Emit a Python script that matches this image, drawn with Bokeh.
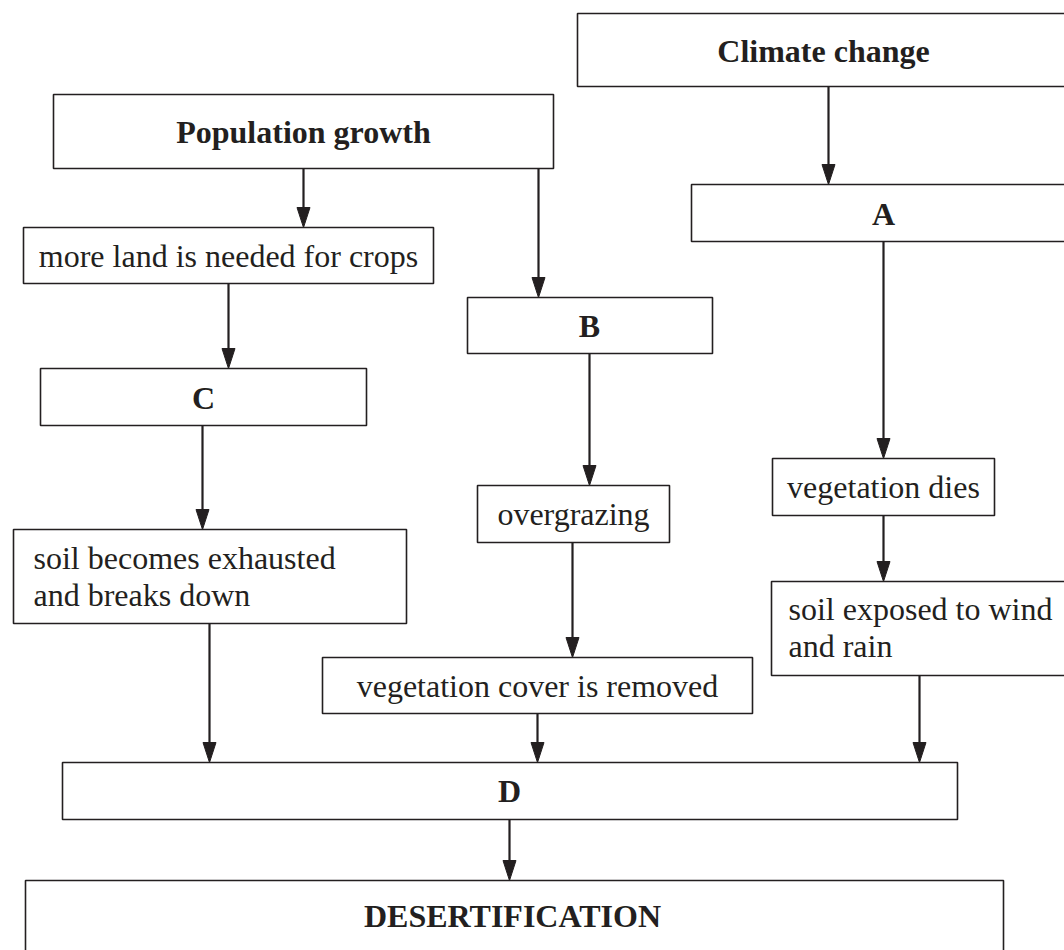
from bokeh.plotting import figure
from bokeh.models import Range1d, ColumnDataSource
from bokeh.core.properties import value
from bokeh.embed import file_html
from bokeh.resources import INLINE

INK = "#231f20"
FONT = value("Liberation Serif")

# ---- flowchart nodes (page-pixel layout) ----
node_labels = ["Climate change", "Population growth", "A", "more land is needed for crops",
               "B", "C", "vegetation dies", "overgrazing",
               "soil becomes exhausted\nand breaks down", "soil exposed to wind\nand rain",
               "vegetation cover is removed", "D", "DESERTIFICATION"]
node_bold = [True, True, True, False, True, True, False, False, False, False, False, True, True]
node_left = [577, 53, 691, 23, 467, 40, 772, 477, 13, 771, 322, 62, 25]
node_right = [1069, 553, 1075, 433, 712, 366, 994, 669, 406, 1080, 752, 957, 1003]
node_top = [13, 94, 184, 227, 297, 368, 458, 485, 529, 581, 657, 762, 880]
node_bottom = [86, 168, 241, 283, 353, 425, 515, 542, 623, 675, 713, 819, 990]
node_text_x = [823, 303, 883, 228, 589, 203, 883, 573, 33, 788, 537, 509, 512]
node_text_y = [50, 131, 213, 255, 325, 397, 486, 513, 576, 627, 685, 790, 915]
node_align = ["center"] * 8 + ["left", "left"] + ["center"] * 3

# ---- arrows: x, start y, tip y ----
arrow_x = [828, 303, 538, 228, 202, 589, 883, 883, 572, 209, 537, 919, 509]
arrow_y0 = [86, 168, 168, 283, 425, 353, 241, 515, 542, 623, 713, 675, 819]
arrow_y1 = [184, 227, 297, 368, 529, 485, 458, 581, 657, 762, 762, 762, 880]

HEAD_W = 13
HEAD_L = 20
LINE_GAP = 37

W, H = 1064, 950
p = figure(width=W, height=H, output_backend="svg", toolbar_location=None,
           x_range=Range1d(0, W), y_range=Range1d(H, 0),
           x_axis_location=None, y_axis_location=None, min_border=0,
           outline_line_color=None, border_fill_color="white",
           background_fill_color="white")
p.grid.visible = False

# boxes
p.quad(left=node_left, right=node_right, top=node_top, bottom=node_bottom,
       fill_color="white", line_color=INK, line_width=1.6)

# arrow shafts (stop at the base of the head)
shaft_end = [y1 - HEAD_L + 2 for y1 in arrow_y1]
p.segment(x0=arrow_x, y0=arrow_y0, x1=arrow_x, y1=shaft_end, line_color=INK, line_width=2.2)

# arrow heads
hx = [[x - HEAD_W / 2, x + HEAD_W / 2, x] for x in arrow_x]
hy = [[y1 - HEAD_L, y1 - HEAD_L, y1] for y1 in arrow_y1]
p.patches(xs=hx, ys=hy, fill_color=INK, line_color=INK, line_width=1)

# texts (multi-line labels split into separate lines)
groups = {}
for i, lab in enumerate(node_labels):
    lines = lab.split("\n")
    n = len(lines)
    for k, ln in enumerate(lines):
        y = node_text_y[i] + (k - (n - 1) / 2) * LINE_GAP
        key = (node_bold[i], node_align[i])
        g = groups.setdefault(key, dict(x=[], y=[], t=[]))
        g["x"].append(node_text_x[i])
        g["y"].append(y)
        g["t"].append(ln)

for (bold, align), g in groups.items():
    p.text(x="x", y="y", text="t", source=ColumnDataSource(g), text_font=FONT,
           text_font_size="32px", text_font_style="bold" if bold else "normal",
           text_align=align, text_baseline="middle", text_color=INK)

html = file_html(p, INLINE)
html = html.replace("<body>", '<body style="margin:0;overflow:hidden">', 1)
open("out.html", "w").write(html)
